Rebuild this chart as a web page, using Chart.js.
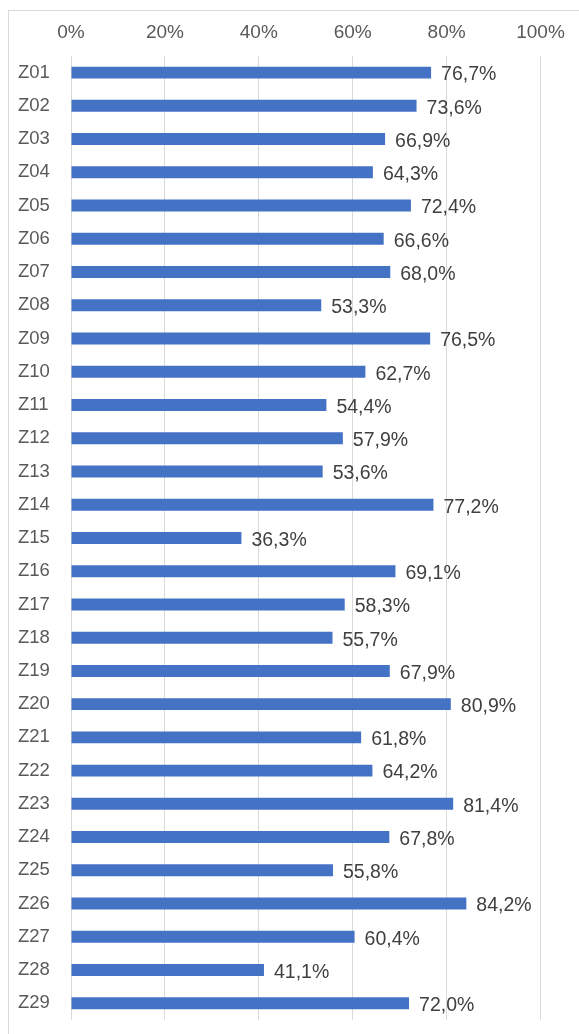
<!DOCTYPE html>
<html>
<head>
<meta charset="utf-8">
<script src="https://cdn.jsdelivr.net/npm/chart.js@4/dist/chart.umd.min.js"></script>
<style>
  html, body { margin: 0; padding: 0; background: #fff; overflow: hidden; }
  .frame { position: absolute; left: 8px; top: 10px; width: 700px; height: 1200px; border: 1px solid #d9d9d9; }
  .wrap { position: absolute; left: 0; top: 0; width: 579px; height: 1034px; }
</style>
</head>
<body>
<div class="frame"></div>
<div class="wrap"><canvas id="chart" width="579" height="1034"></canvas></div>
<script>
const categories = ["Z01","Z02","Z03","Z04","Z05","Z06","Z07","Z08","Z09","Z10",
  "Z11","Z12","Z13","Z14","Z15","Z16","Z17","Z18","Z19","Z20",
  "Z21","Z22","Z23","Z24","Z25","Z26","Z27","Z28","Z29"]
const shares = [76.7, 73.6, 66.9, 64.3, 72.4, 66.6, 68.0, 53.3, 76.5, 62.7,
  54.4, 57.9, 53.6, 77.2, 36.3, 69.1, 58.3, 55.7, 67.9, 80.9,
  61.8, 64.2, 81.4, 67.8, 55.8, 84.2, 60.4, 41.1, 72.0]
const tickValues = [0, 20, 40, 60, 80, 100]

const fontFamily = "'Liberation Sans', Arial, sans-serif"

// value labels to the right of each bar, comma decimals
const barLabels = {
  id: "barLabels",
  afterDatasetsDraw(chart) {
    const ctx = chart.ctx
    const meta = chart.getDatasetMeta(0)
    ctx.save()
    ctx.font = "19.5px " + fontFamily
    ctx.fillStyle = "#404040"
    ctx.textAlign = "left"
    ctx.textBaseline = "middle"
    meta.data.forEach((bar, i) => {
      const txt = shares[i].toFixed(1).replace(".", ",") + "%"
      ctx.fillText(txt, bar.x + 10, bar.y + 2.5)
    })
    ctx.restore()
  }
}

new Chart(document.getElementById("chart"), {
  type: "bar",
  data: {
    labels: categories,
    datasets: [{
      data: shares,
      backgroundColor: "#4472C4",
      categoryPercentage: 1,
      barPercentage: 0.36
    }]
  },
  options: {
    indexAxis: "y",
    responsive: false,
    animation: false,
    layout: { padding: { left: 18, right: 38.5, top: 10, bottom: 14 } },
    plugins: { legend: { display: false }, tooltip: { enabled: false } },
    scales: {
      x: {
        position: "top",
        min: 0,
        max: 100,
        afterBuildTicks(scale) { scale.ticks = tickValues.map(v => ({ value: v })) },
        afterFit(scale) { scale.height = 46 },
        border: { display: false },
        grid: { color: "#d9d9d9", lineWidth: 1, drawTicks: false },
        ticks: {
          padding: 12,
          color: "#595959",
          font: { family: fontFamily, size: 19 },
          callback: v => v + "%"
        }
      },
      y: {
        afterFit(scale) { scale.width = 53 },
        border: { display: false },
        grid: { display: false },
        ticks: {
          crossAlign: "far",
          color: "#595959",
          font: { family: fontFamily, size: 18.5 }
        }
      }
    }
  },
  plugins: [barLabels]
})
</script>
</body>
</html>
